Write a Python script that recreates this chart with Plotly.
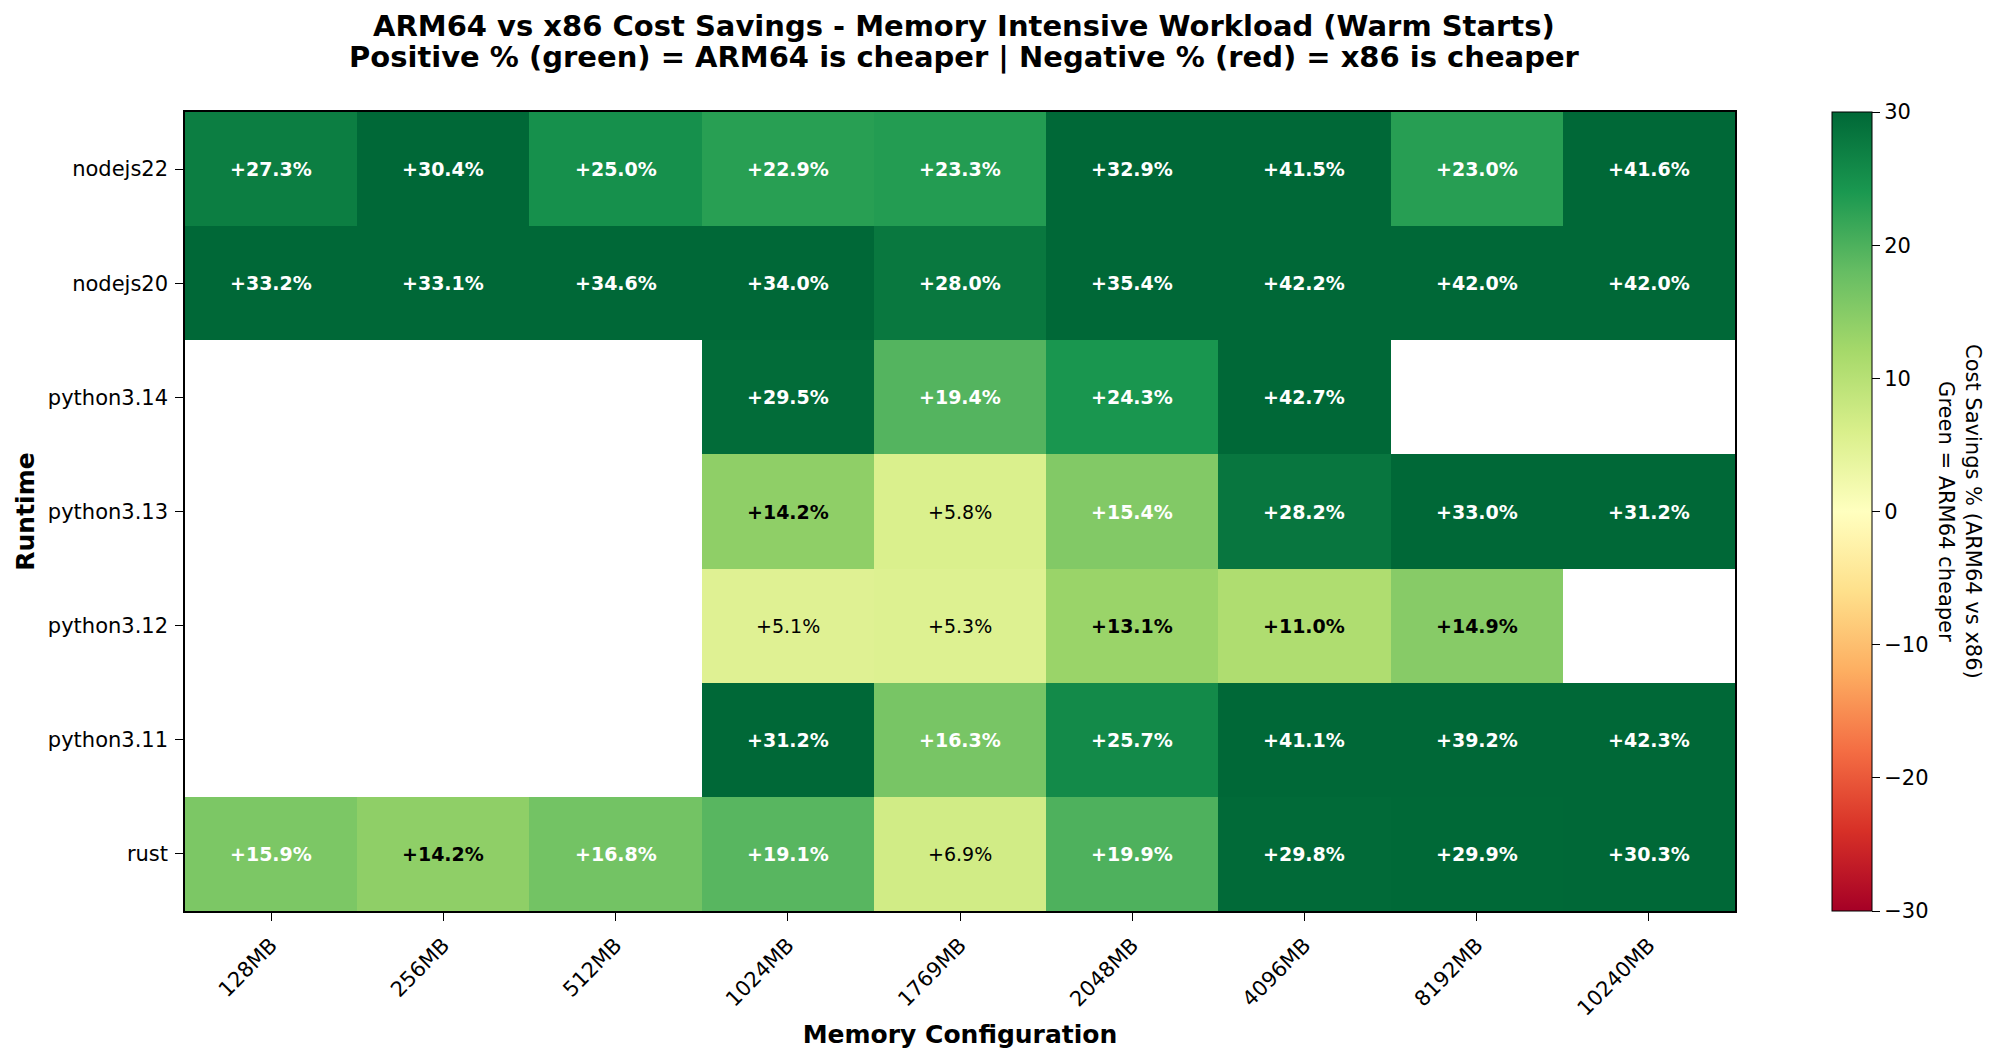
import plotly.graph_objects as go

runtimes = ["nodejs22", "nodejs20", "python3.14", "python3.13", "python3.12", "python3.11", "rust"]
memory = ["128MB", "256MB", "512MB", "1024MB", "1769MB", "2048MB", "4096MB", "8192MB", "10240MB"]

savings = [
    [27.3, 30.4, 25.0, 22.9, 23.3, 32.9, 41.5, 23.0, 41.6],
    [33.2, 33.1, 34.6, 34.0, 28.0, 35.4, 42.2, 42.0, 42.0],
    [None, None, None, 29.5, 19.4, 24.3, 42.7, None, None],
    [None, None, None, 14.2, 5.8, 15.4, 28.2, 33.0, 31.2],
    [None, None, None, 5.1, 5.3, 13.1, 11.0, 14.9, None],
    [None, None, None, 31.2, 16.3, 25.7, 41.1, 39.2, 42.3],
    [15.9, 14.2, 16.8, 19.1, 6.9, 19.9, 29.8, 29.9, 30.3],
]

title_lines = [
    "ARM64 vs x86 Cost Savings - Memory Intensive Workload (Warm Starts)",
    "Positive % (green) = ARM64 is cheaper | Negative % (red) = x86 is cheaper",
]

# matplotlib RdYlGn
rdylgn = ["#a50026", "#d73027", "#f46d43", "#fdae61", "#fee08b", "#ffffbf",
          "#d9ef8b", "#a6d96a", "#66bd63", "#1a9850", "#006837"]
colorscale = [[i / 10, c] for i, c in enumerate(rdylgn)]

font = "DejaVu Sans"
W, H = 2000, 1061

fig = go.Figure()
fig.add_trace(go.Heatmap(
    z=savings, x=memory, y=runtimes,
    colorscale=colorscale, zmin=-30, zmax=30,
    hoverongaps=False,
    colorbar=dict(
        x=1824 / W, xanchor="left", y=1 - 903 / H, yanchor="bottom",
        len=799 / H, lenmode="fraction", thickness=40, thicknessmode="pixels",
        xpad=0, ypad=0,
        outlinecolor="black", outlinewidth=1,
        tickvals=[-30, -20, -10, 0, 10, 20, 30],
        ticks="outside", ticklen=8, tickcolor="black",
        tickfont=dict(family=font, size=21, color="black"),
    ),
))

annotations = []
for i, r in enumerate(runtimes):
    for j, m in enumerate(memory):
        v = savings[i][j]
        if v is None:
            continue
        txt = f"{v:+.1f}%"
        if abs(v) > 15:
            color = "white"
            txt = "<b>" + txt + "</b>"
        elif abs(v) > 10:
            color = "black"
            txt = "<b>" + txt + "</b>"
        else:
            color = "black"
        annotations.append(dict(x=m, y=r, text=txt, showarrow=False,
                                font=dict(family=font, size=19, color=color)))

# colorbar label
annotations.append(dict(
    x=1952 / W, y=1 - 503 / H, xref="paper", yref="paper",
    xanchor="center", yanchor="middle",
    text="Cost Savings % (ARM64 vs x86)<br>Green = ARM64 cheaper",
    textangle=90, showarrow=False,
    font=dict(family=font, size=21, color="black"),
))

# two-line title
for k, line in enumerate(title_lines):
    annotations.append(dict(
        x=956 / W, y=1 - (18 + 31 * k) / H, xref="paper", yref="paper",
        xanchor="center", yanchor="middle",
        text="<b>" + line + "</b>", showarrow=False,
        font=dict(family=font, size=29, color="black"),
    ))

fig.update_layout(
    width=W, height=H,
    margin=dict(l=0, r=0, t=0, b=0),
    paper_bgcolor="white", plot_bgcolor="white",
    annotations=annotations,
    xaxis=dict(
        domain=[177 / W, 1727 / W],
        title=dict(text="<b>Memory Configuration</b>", font=dict(family=font, size=25, color="black"), standoff=6),
        tickangle=-45, ticks="outside", ticklen=8, tickcolor="black",
        tickfont=dict(family=font, size=21, color="black"),
        ticklabelstandoff=4,
        showline=True, linecolor="black", linewidth=1.5, mirror=True,
        showgrid=False, zeroline=False,
    ),
    yaxis=dict(
        domain=[1 - 903 / H, 1 - 104 / H],
        title=dict(text="<b>Runtime</b>", font=dict(family=font, size=25, color="black"), standoff=6),
        autorange="reversed", ticks="outside", ticklen=8, tickcolor="black",
        tickfont=dict(family=font, size=21, color="black"),
        ticklabelstandoff=3,
        showline=True, linecolor="black", linewidth=1.5, mirror=True,
        showgrid=False, zeroline=False,
    ),
)

fig.write_html("out.html")
